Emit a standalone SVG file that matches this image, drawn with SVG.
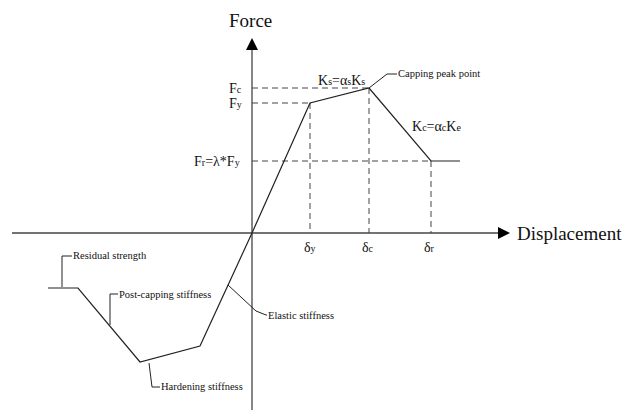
<svg xmlns="http://www.w3.org/2000/svg" width="628" height="411" viewBox="0 0 628 411">
<style>
.ax{stroke:#444;stroke-width:1.3;fill:none}
.cv{stroke:#222;stroke-width:1.2;fill:none}
.ds{stroke:#444;stroke-width:1;fill:none;stroke-dasharray:6,4}
.ld{stroke:#222;stroke-width:1;fill:none}
</style>
<defs>
<marker id="arr" markerWidth="12" markerHeight="12" refX="10" refY="6" orient="auto" markerUnits="userSpaceOnUse">
<path d="M0,0 L12,6 L0,12 Z" fill="#000"/>
</marker>
</defs>
<g id="connectors">
<line class="ax" x1="252" y1="410" x2="252" y2="40" marker-end="url(#arr)"/>
<line class="ax" x1="12" y1="233" x2="508" y2="233" marker-end="url(#arr)"/>
<path class="ds" d="M252,88 H369 M252,103 H310 M252,161 H431 M310,103 V233 M369,88 V233 M431,161 V233"/>
<polyline class="cv" points="48,288 78,288 140,362 200,346 252,233 310,103 369,88 431,161 460,161"/>
<polyline class="ld" points="369,88 387,74 397,74"/>
<polyline class="ld" points="62,287 62,256 72,256"/>
<polyline class="ld" points="110,325 110,294 118,294"/>
<polyline class="ld" points="149,363 152,387 160,387"/>
<polyline class="ld" points="228,285 256,311 266,315 267,315"/>
</g>
<g id="axis-labels" font-family="'Liberation Serif'" font-size="19" fill="#111">
<text x="229" y="27">Force</text>
<text x="517" y="240">Displacement</text>
</g>
<g id="ticks" font-family="'Liberation Serif'" font-size="14" fill="#111">
<text x="229" y="93">F<tspan font-size="10">c</tspan></text>
<text x="229" y="108">F<tspan font-size="10">y</tspan></text>
<text x="194" y="166">F<tspan font-size="10">r</tspan>=λ*F<tspan font-size="10">y</tspan></text>
<text x="304" y="252">δ<tspan font-size="10">y</tspan></text>
<text x="362" y="252">δ<tspan font-size="10">c</tspan></text>
<text x="424" y="252">δ<tspan font-size="10">r</tspan></text>
</g>
<g id="stiffness-labels" font-family="'Liberation Serif'" font-size="14" fill="#111">
<text x="318" y="85">K<tspan font-size="10">s</tspan>=α<tspan font-size="10">s</tspan>K<tspan font-size="10">s</tspan></text>
<text x="412" y="131">K<tspan font-size="10">c</tspan>=α<tspan font-size="10">c</tspan>K<tspan font-size="10">e</tspan></text>
</g>
<g id="annotations" font-family="'Liberation Serif'" font-size="10.5" fill="#111">
<text x="398" y="77">Capping peak point</text>
<text x="73" y="259">Residual strength</text>
<text x="119" y="298">Post-capping stiffness</text>
<text x="161" y="390">Hardening stiffness</text>
<text x="268" y="319">Elastic stiffness</text>
</g>
</svg>
